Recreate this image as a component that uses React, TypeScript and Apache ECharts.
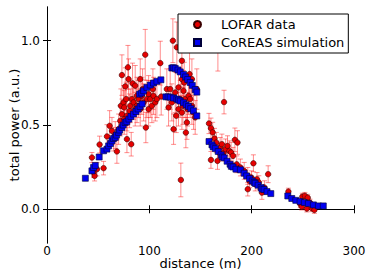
import React, { useEffect, useRef } from "react";
import * as echarts from "echarts";

// LOFAR data: distance (m), total power (a.u.), error
const lofarDistance = [
  43.9, 45.6, 46.5, 48.8, 51.4, 55.3, 58.6, 61.2, 63.5, 65.1, 66.7, 68.3, 70.0, 71.6, 72.2, 73.2, 73.2, 74.8, 75.5, 75.5,
  76.5, 77.4, 78.1, 78.1, 79.1, 79.7, 80.7, 81.4, 82.3, 83.0, 83.6, 84.6, 86.2, 86.2, 87.9, 87.9, 89.5, 91.1, 91.1, 92.7,
  93.4, 94.4, 96.0, 96.6, 97.6, 99.3, 99.3, 100.9, 102.5, 103.5, 104.1, 105.8, 107.4, 110.7, 111.6,
  117.1, 118.8, 120.4, 122.0, 123.0, 123.7, 125.3, 126.3, 126.9, 128.5, 128.5, 130.2, 130.8, 131.8, 131.8, 131.8, 132.8,
  133.4, 134.1, 135.0, 135.7, 136.7, 137.3, 138.3, 139.3, 139.9, 141.6, 141.6, 143.2, 144.8, 146.4, 167.0, 173.0,
  158.3, 160.2, 161.9, 160.2, 163.7, 165.5, 166.6, 168.0, 169.2, 170.9, 172.7, 174.5, 176.4, 178.2, 179.9, 181.8, 183.6,
  185.4, 186.1, 189.0, 192.7, 196.2, 196.2, 198.0, 199.8, 201.7, 203.5, 205.2, 207.0, 210.0, 212.5, 216.1,
  235.9, 247.6, 249.0, 249.5, 252.0, 253.9, 254.8, 257.0, 258.8, 261.3
];
const lofarPower = [
  0.307, 0.218, 0.198, 0.238, 0.384, 0.244, 0.432, 0.495, 0.465, 0.416, 0.44, 0.343, 0.475, 0.525, 0.614, 0.796, 0.564, 0.634, 0.604, 0.535,
  0.729, 0.654, 0.416, 0.555, 0.842, 0.772, 0.584, 0.614, 0.386, 0.654, 0.747, 0.634, 0.733, 0.594, 0.614, 0.673, 0.654, 0.772, 0.594, 0.673,
  0.713, 0.634, 0.917, 0.485, 0.654, 0.683, 0.594, 0.654, 0.614, 0.713, 0.673, 0.634, 0.654, 0.867, 0.669,
  0.713, 0.604, 0.713, 0.634, 1.0, 0.475, 0.693, 0.555, 0.961, 0.723, 0.594, 0.654, 0.174, 0.881, 0.772, 0.574, 0.614,
  0.703, 0.752, 0.654, 0.455, 0.515, 0.594, 0.673, 0.802, 0.654, 0.614, 0.772, 0.574, 0.545, 0.713, 0.95, 0.636,
  0.509, 0.481, 0.456, 0.293, 0.42, 0.396, 0.287, 0.337, 0.366, 0.386, 0.337, 0.357, 0.376, 0.346, 0.337, 0.317, 0.412,
  0.267, 0.396, 0.248, 0.228, 0.198, 0.119, 0.168, 0.188, 0.273, 0.149, 0.178, 0.159, 0.099, 0.129, 0.208,
  0.105, 0.03, 0.016, 0.075, 0.08, 0.004, 0.069, 0.04, 0.006, -0.004
];
const lofarError = [
  0.03, 0.03, 0.03, 0.04, 0.05, 0.04, 0.07, 0.09, 0.08, 0.07, 0.08, 0.07, 0.09, 0.09, 0.1, 0.12, 0.09, 0.1, 0.1, 0.09,
  0.11, 0.1, 0.08, 0.09, 0.13, 0.12, 0.1, 0.1, 0.07, 0.1, 0.12, 0.1, 0.12, 0.1, 0.1, 0.11, 0.11, 0.12, 0.1, 0.11,
  0.12, 0.11, 0.15, 0.09, 0.11, 0.11, 0.1, 0.11, 0.1, 0.12, 0.11, 0.11, 0.11, 0.13, 0.11,
  0.12, 0.11, 0.12, 0.11, 0.13, 0.09, 0.12, 0.1, 0.15, 0.12, 0.1, 0.11, 0.1, 0.14, 0.12, 0.1, 0.11,
  0.12, 0.12, 0.11, 0.09, 0.1, 0.1, 0.11, 0.13, 0.11, 0.11, 0.12, 0.1, 0.1, 0.12, 0.13, 0.07,
  0.06, 0.06, 0.06, 0.05, 0.06, 0.06, 0.05, 0.05, 0.06, 0.06, 0.05, 0.06, 0.06, 0.06, 0.06, 0.05, 0.07,
  0.05, 0.07, 0.05, 0.05, 0.05, 0.04, 0.04, 0.04, 0.05, 0.04, 0.04, 0.04, 0.04, 0.04, 0.05,
  0.02, 0.02, 0.02, 0.02, 0.02, 0.02, 0.02, 0.02, 0.02, 0.02
];

// CoREAS simulation
const coreasDistance = [
  37.5, 43.9, 45.5, 47.2, 51.0, 55.3, 58.6, 60.2, 62.0, 63.5, 65.0, 66.7, 68.0, 70.0, 71.0, 73.2, 74.5, 76.4, 78.0, 80.0,
  82.0, 84.5, 87.0, 89.0, 91.0, 93.0, 90.5, 92.5, 94.4, 97.6, 100.9, 104.1, 107.4, 111.3,
  122.0, 123.5, 125.3, 128.0, 130.2, 133.4, 135.5, 137.5, 139.9, 142.0, 144.8, 146.4,
  116.2, 118.3, 120.4, 123.7, 126.9, 128.5, 130.2, 133.4, 136.0, 138.2, 140.5, 143.1, 146.4,
  158.3, 161.2, 162.4, 164.5, 167.3, 170.2, 171.4, 173.2, 176.0, 178.9, 180.1, 181.8, 184.6, 189.0, 192.7, 195.1, 198.0,
  200.6, 202.4, 203.5, 206.3, 209.2, 210.1, 212.1, 215.0, 218.7,
  235.3, 239.2, 243.1, 247.3, 251.5, 255.4, 260.3, 265.2, 270.0
];
const coreasPower = [
  0.184, 0.228, 0.248, 0.26, 0.31, 0.347, 0.357, 0.376, 0.39, 0.406, 0.42, 0.426, 0.44, 0.456, 0.47, 0.485, 0.5, 0.515, 0.52, 0.535,
  0.55, 0.565, 0.58, 0.595, 0.61, 0.625, 0.683, 0.69, 0.703, 0.723, 0.737, 0.749, 0.759, 0.768,
  0.838, 0.84, 0.836, 0.826, 0.815, 0.8, 0.785, 0.77, 0.752, 0.735, 0.71, 0.695,
  0.667, 0.667, 0.665, 0.66, 0.654, 0.648, 0.642, 0.632, 0.62, 0.61, 0.597, 0.584, 0.554,
  0.402, 0.382, 0.37, 0.36, 0.343, 0.323, 0.31, 0.305, 0.285, 0.267, 0.255, 0.251, 0.238, 0.234, 0.214, 0.198, 0.182,
  0.168, 0.16, 0.154, 0.143, 0.129, 0.12, 0.117, 0.105, 0.093,
  0.079, 0.064, 0.053, 0.046, 0.04, 0.034, 0.026, 0.02, 0.02
];

const xTicks = [0, 100, 200, 300];
const yTicks = [0, 0.5, 1.0];

const FONT = "DejaVu Sans";

export default function App() {
  const ref = useRef<HTMLDivElement>(null);
  useEffect(() => {
    if (!ref.current) return;
    const chart = echarts.init(ref.current, null, { renderer: "svg" });
    const lofar = lofarDistance.map((d, i) => [d, lofarPower[i]]);
    const bars = lofarDistance.map((d, i) => [d, lofarPower[i] - lofarError[i], lofarPower[i] + lofarError[i]]);
    const coreas = coreasDistance.map((d, i) => [d, coreasPower[i]]);
    const axisLine = { show: true, lineStyle: { color: "#000", width: 1 } };
    const tickIn = { show: true, inside: true, length: 4, lineStyle: { color: "#000", width: 1 } };
    chart.setOption({
      animation: false,
      backgroundColor: "#fff",
      grid: { left: 47, right: 20, top: 7, bottom: 37, containLabel: false, outerBoundsMode: "none" },
      xAxis: [
        {
          type: "value", min: 0, max: 300, position: "bottom",
          axisLine, axisTick: { ...tickIn, customValues: xTicks }, splitLine: { show: false },
          axisLabel: { customValues: xTicks, color: "#000", fontFamily: FONT, fontSize: 12, margin: 2 },
          name: "distance (m)", nameLocation: "middle", nameGap: 14, nameMoveOverlap: false,
          nameTextStyle: { color: "#000", fontFamily: FONT, fontSize: 13 },
        },
        {
          type: "value", min: 0, max: 300, position: "top",
          axisLine, axisTick: { ...tickIn, customValues: xTicks }, splitLine: { show: false },
          axisLabel: { show: false },
        },
      ],
      yAxis: [
        {
          type: "value", min: -0.2, max: 1.2, position: "left",
          axisLine, axisTick: { ...tickIn, customValues: yTicks }, splitLine: { show: false },
          axisLabel: {
            customValues: yTicks, color: "#000", fontFamily: FONT, fontSize: 12, margin: 7,
            formatter: (v: number) => v.toFixed(1),
          },
          name: "total power (a.u.)", nameLocation: "middle", nameGap: 26, nameRotate: 90, nameMoveOverlap: false,
          nameTextStyle: { color: "#000", fontFamily: FONT, fontSize: 13 },
        },
        {
          type: "value", min: -0.2, max: 1.2, position: "right",
          axisLine, axisTick: { ...tickIn, customValues: yTicks }, splitLine: { show: false },
          axisLabel: { show: false },
        },
      ],
      legend: {
        orient: "vertical", left: 178, top: 14,
        backgroundColor: "#fff", borderColor: "#000", borderWidth: 1, borderRadius: 0,
        padding: [4, 4, 4, 15], itemGap: 5, itemWidth: 7, itemHeight: 7,
        textStyle: { color: "#000", fontFamily: FONT, fontSize: 13, padding: [0, 0, 0, 15] },
        data: [
          { name: "LOFAR data", icon: "circle" },
          { name: "CoREAS simulation", icon: "rect" },
        ],
        z: 10,
      },
      series: [
        {
          name: "errors", type: "custom", z: 1,
          data: bars,
          encode: { x: 0, y: [1, 2] },
          renderItem: (params: any, api: any) => {
            const x = api.value(0);
            const lo = api.coord([x, api.value(1)]);
            const hi = api.coord([x, api.value(2)]);
            const hw = 2.5;
            const style = { stroke: "rgba(255,30,30,0.5)", lineWidth: 1 };
            return {
              type: "group",
              children: [
                { type: "line", shape: { x1: lo[0], y1: lo[1], x2: hi[0], y2: hi[1] }, style },
                { type: "line", shape: { x1: lo[0] - hw, y1: lo[1], x2: lo[0] + hw, y2: lo[1] }, style },
                { type: "line", shape: { x1: hi[0] - hw, y1: hi[1], x2: hi[0] + hw, y2: hi[1] }, style },
              ],
            };
          },
        },
        {
          name: "LOFAR data", type: "scatter", z: 2, symbol: "circle", symbolSize: 5.5,
          data: lofar,
          itemStyle: { color: "#e60000", borderColor: "#3a0000", borderWidth: 0.6, opacity: 1 },
        },
        {
          name: "CoREAS simulation", type: "scatter", z: 3, symbol: "rect", symbolSize: 6,
          data: coreas,
          itemStyle: { color: "#0000f0", borderColor: "#00003a", borderWidth: 0.6, opacity: 1 },
        },
      ],
    });
    return () => chart.dispose();
  }, []);
  return (
    <div
      ref={ref}
      style={{ position: "fixed", left: 0, top: 0, width: 374, height: 280, background: "#fff" }}
    />
  );
}
